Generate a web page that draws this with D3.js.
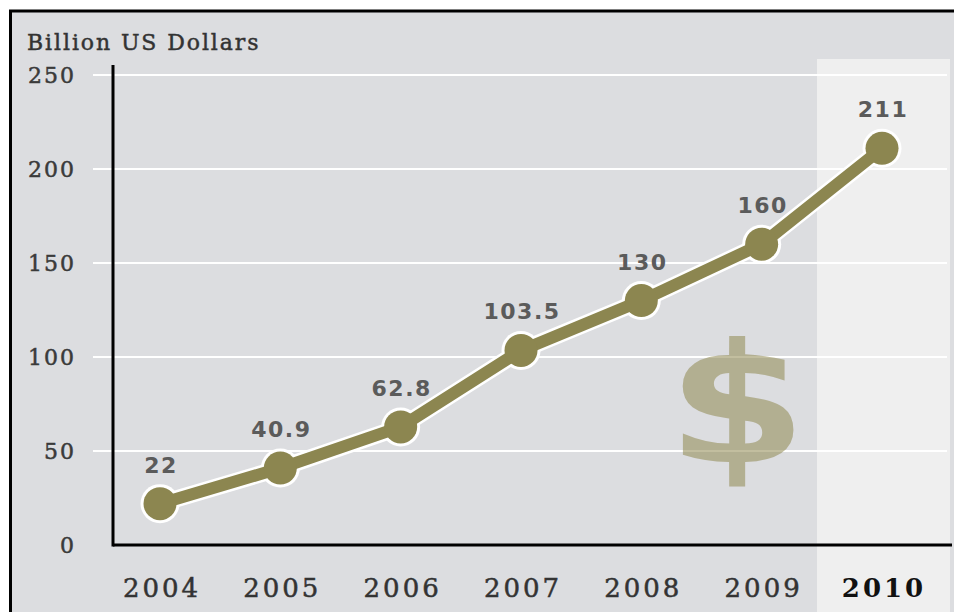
<!DOCTYPE html>
<html>
<head>
<meta charset="utf-8">
<script src="https://cdn.jsdelivr.net/npm/d3@7"></script>
<style>
  body { margin: 0; background: #fff; }
  svg { display: block; }
</style>
</head>
<body>
<div id="chart"></div>
<script>
// data
var years = [2004, 2005, 2006, 2007, 2008, 2009, 2010];
var values = [22, 40.9, 62.8, 103.5, 130, 160, 211];
var yTicks = [0, 50, 100, 150, 200, 250];
var unitLabel = "Billion US Dollars";
var highlightYear = 2010;

var width = 954, height = 612;

var svg = d3.select("#chart").append("svg")
    .attr("width", width)
    .attr("height", height);

// panel background
svg.append("rect")
    .attr("x", 10).attr("y", 10)
    .attr("width", width - 10).attr("height", height - 10)
    .attr("fill", "#dcdde0");

var x = d3.scaleLinear().domain([2004, 2010]).range([160, 882]);
var y = d3.scaleLinear().domain([0, 250]).range([545, 75]);

// highlighted year band
svg.append("rect")
    .attr("x", x(highlightYear) - 65)
    .attr("y", 59)
    .attr("width", 133)
    .attr("height", height - 59)
    .attr("fill", "#efefef");

// gridlines
svg.append("g")
    .selectAll("line")
    .data(yTicks.filter(d => d > 0))
    .enter().append("line")
    .attr("x1", 93).attr("x2", 947)
    .attr("y1", d => y(d)).attr("y2", d => y(d))
    .attr("stroke", "#fff")
    .attr("stroke-width", 2);

// big dollar sign watermark (stretched a bit wider like the original)
svg.append("text")
    .attr("transform", "translate(737,462) scale(1.22,1)")
    .attr("text-anchor", "middle")
    .attr("font-family", "DejaVu Sans")
    .attr("font-weight", "bold")
    .attr("font-size", 165)
    .attr("fill", "#8f8850")
    .attr("fill-opacity", 0.55)
    .text("$");

// y tick labels
svg.append("g")
    .selectAll("text")
    .data(yTicks)
    .enter().append("text")
    .attr("x", 76)
    .attr("y", d => y(d))
    .attr("dy", "0.36em")
    .attr("text-anchor", "end")
    .attr("font-family", "DejaVu Serif")
    .attr("font-size", 22)
    .attr("letter-spacing", 2)
    .attr("fill", "#3a3a3a")
    .attr("stroke", "#3a3a3a")
    .attr("stroke-width", 0.5)
    .text(d => d);

// axis lines
svg.append("line")
    .attr("x1", 113).attr("x2", 113)
    .attr("y1", 65).attr("y2", y(0) + 1.5)
    .attr("stroke", "#000").attr("stroke-width", 3);
svg.append("line")
    .attr("x1", 113).attr("x2", 952)
    .attr("y1", y(0)).attr("y2", y(0))
    .attr("stroke", "#000").attr("stroke-width", 3);

// frame on top and left
svg.append("line")
    .attr("x1", 9).attr("x2", width)
    .attr("y1", 11).attr("y2", 11)
    .attr("stroke", "#000").attr("stroke-width", 3);
svg.append("line")
    .attr("x1", 10.5).attr("x2", 10.5)
    .attr("y1", 10).attr("y2", height)
    .attr("stroke", "#000").attr("stroke-width", 3);

// unit label
svg.append("text")
    .attr("x", 27).attr("y", 50)
    .attr("font-family", "DejaVu Serif")
    .attr("font-size", 22)
    .attr("letter-spacing", 1.9)
    .attr("fill", "#333")
    .attr("stroke", "#333")
    .attr("stroke-width", 0.45)
    .text(unitLabel);

// x labels
svg.append("g")
    .selectAll("text")
    .data(years)
    .enter().append("text")
    .attr("x", d => x(d) + 2)
    .attr("y", 597)
    .attr("text-anchor", "middle")
    .attr("font-family", "DejaVu Serif")
    .attr("font-size", 26)
    .attr("letter-spacing", 3)
    .attr("font-weight", d => d === highlightYear ? "bold" : "normal")
    .attr("fill", d => d === highlightYear ? "#111" : "#333")
    .attr("stroke", d => d === highlightYear ? "none" : "#333")
    .attr("stroke-width", 0.5)
    .text(d => d);

// series
var pts = years.map((yr, i) => ({ year: yr, value: values[i] }));

var line = d3.line()
    .x(d => x(d.year))
    .y(d => y(d.value));

svg.append("path")
    .datum(pts)
    .attr("d", line)
    .attr("fill", "none")
    .attr("stroke", "#fff")
    .attr("stroke-width", 17)
    .attr("stroke-linejoin", "round");

svg.append("g")
    .selectAll("circle")
    .data(pts)
    .enter().append("circle")
    .attr("cx", d => x(d.year))
    .attr("cy", d => y(d.value))
    .attr("r", 19.5)
    .attr("fill", "#fff");

svg.append("path")
    .datum(pts)
    .attr("d", line)
    .attr("fill", "none")
    .attr("stroke", "#8c8650")
    .attr("stroke-width", 12)
    .attr("stroke-linejoin", "round");

svg.append("g")
    .selectAll("circle")
    .data(pts)
    .enter().append("circle")
    .attr("cx", d => x(d.year))
    .attr("cy", d => y(d.value))
    .attr("r", 16.5)
    .attr("fill", "#8c8650");

// value labels
svg.append("g")
    .selectAll("text")
    .data(pts)
    .enter().append("text")
    .attr("x", d => x(d.year) + 1)
    .attr("y", d => y(d.value) - 31)
    .attr("text-anchor", "middle")
    .attr("font-family", "DejaVu Sans")
    .attr("font-weight", "bold")
    .attr("font-size", 22)
    .attr("letter-spacing", 1.5)
    .attr("fill", "#5b5b5b")
    .text(d => d.value);
</script>
</body>
</html>
